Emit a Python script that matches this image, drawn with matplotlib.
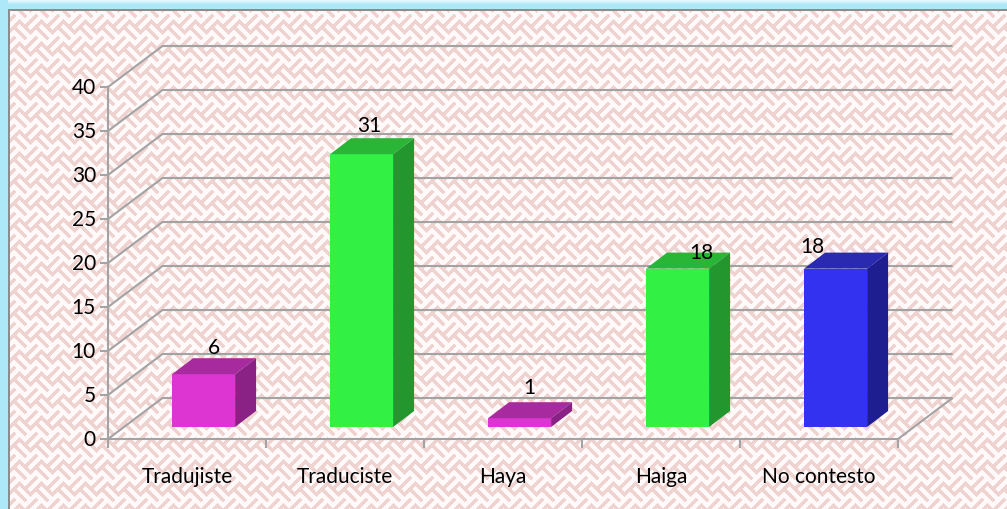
import numpy as np
import matplotlib
matplotlib.use("Agg")
import matplotlib.pyplot as plt
from matplotlib.patches import Polygon

categories = ["Tradujiste", "Traducist e".replace(" ", ""), "Haya", "Haiga", "No contesto"]
values = [6, 31, 1, 18, 18]
front_colors = ["#DC35D1", "#33F044", "#DC35D1", "#33F044", "#3232F0"]
top_colors = ["#A82A9F", "#29B536", "#A82A9F", "#29B536", "#2A2AB0"]
side_colors = ["#8A2285", "#23962E", "#8A2285", "#23962E", "#1E1E90"]
y_ticks = [0, 5, 10, 15, 20, 25, 30, 35, 40]
label_offsets = [(10, 27), (8, 29), (10, 31), (24, 17), (-23, 23)]

W, H = 1007, 510
GRID = "#A3A3A3"
fig = plt.figure(figsize=(W / 100, H / 100), dpi=100)
plt.rcParams["font.family"] = ["Lato", "DejaVu Sans"]


def texture():
    yy, xx = np.mgrid[0:H, 0:W]
    s = 11.0
    u = (xx + yy) / 2.0
    v = (xx - yy) / 2.0
    cell = (np.floor(u / s) + np.floor(v / s)) % 2 == 0
    su = ((u % (s / 2)) < s / 4)
    sv = ((v % (s / 2)) < s / 4)
    white = np.where(cell, su, sv)
    pink = np.array([0.94, 0.83, 0.82])
    img = np.ones((H, W, 3)) * pink
    img[white] = [1.0, 0.98, 0.98]
    # outer glow and frame
    cy = np.array([0.68, 0.91, 0.98])
    for i in range(10):
        t = min(1, i / 5)
        img[i, :] = (1 - t) * np.array([0.95, 0.99, 1.0]) + t * cy
    img[:, :8] = cy
    img[10:12, 8:] = 0.55
    img[10:, 8:10] = 0.55
    return img


bg = fig.add_axes([0, 0, 1, 1])
bg.imshow(texture(), aspect="auto", interpolation="bilinear")
bg.axis("off")

# axes = front plane of the 3D chart
X0, X1, Y0, Y40 = 108, 898, 440, 88
ax = fig.add_axes([X0 / W, 1 - Y0 / H, (X1 - X0) / W, (Y0 - Y40) / H])
ax.set_xlim(0, 5)
ax.set_ylim(0, 40)
ax.patch.set_alpha(0)
ax.axis("off")
px = 5 / (X1 - X0)
py = 40 / (Y0 - Y40)
dx, dy = 54.5 * px, 41 * py
bw, bd, lift, bdx = 63 * px, 16 * py, 12 * py, 21 * px

kw = dict(clip_on=False, solid_capstyle="butt", solid_joinstyle="miter")
for t in y_ticks:
    if t > 0:
        ax.plot([0, dx, 5 + dx], [t, t + dy, t + dy], color=GRID, lw=1.5, zorder=1, **kw)
    ax.plot([-8 * px, 0], [t, t], color=GRID, lw=1.5, zorder=1, **kw)
ax.plot([0, dx, 5 + dx, 5, 0], [0, dy, dy, 0, 0], color=GRID, lw=1.5, zorder=1, **kw)
ax.plot([0, 0], [0, 40], color=GRID, lw=1.5, zorder=1, **kw)
for i in range(6):
    ax.plot([i, i], [0, -9 * py], color=GRID, lw=1.5, zorder=1, **kw)

for i, v in enumerate(values):
    l = i + 0.5 - bw / 2 + 0.105
    r = l + bw
    b = lift
    t = lift + v
    ax.add_patch(Polygon([(l, b), (r, b), (r, t), (l, t)], fc=front_colors[i], ec="none", zorder=3, clip_on=False))
    ax.add_patch(Polygon([(l, t), (r, t), (r + bdx, t + bd), (l + bdx, t + bd)], fc=top_colors[i], ec="none", zorder=3, clip_on=False))
    ax.add_patch(Polygon([(r, b), (r + bdx, b + bd), (r + bdx, t + bd), (r, t)], fc=side_colors[i], ec="none", zorder=3, clip_on=False))
    ox, oy = label_offsets[i]
    ax.text(i + 0.5 + 0.105 + ox * px, t + oy * py, str(v), ha="center", va="center", fontsize=15, color="black", zorder=4)
    ax.text(i + 0.5, -37 * py, categories[i], ha="center", va="center", fontsize=15, color="black")

for t in y_ticks:
    ax.text(-12 * px, t, str(t), ha="right", va="center", fontsize=15, color="black")

fig.savefig("out.png", dpi=100)
